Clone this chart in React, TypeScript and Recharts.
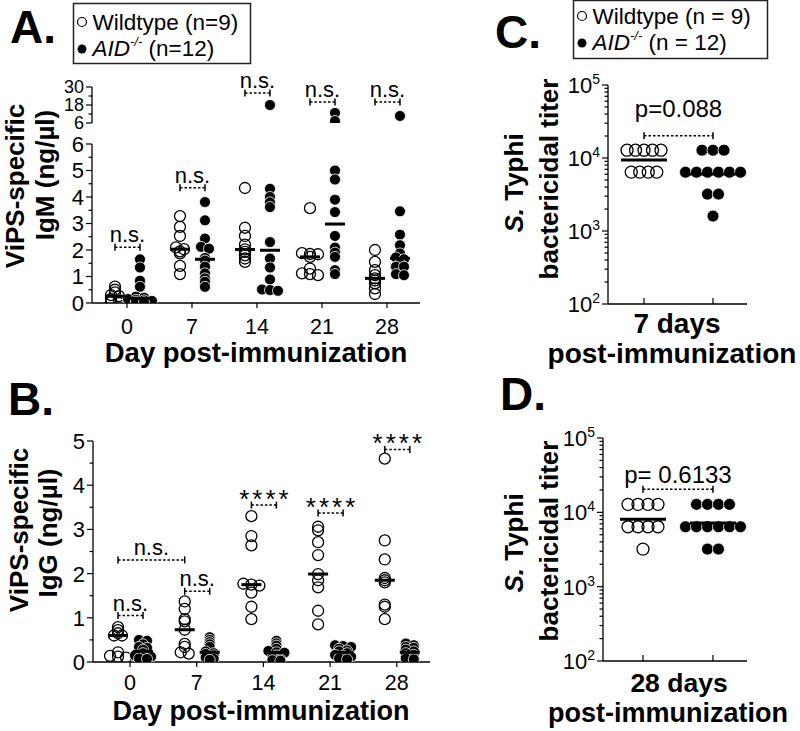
import React from 'react'
import { ScatterChart, Scatter, XAxis, YAxis, ReferenceLine } from 'recharts'

const FONT = '"Liberation Sans", Arial, Helvetica, sans-serif'

// Panel A: ViPS-specific IgM (ng/µl), one list per day
const days = ['0', '7', '14', '21', '28']
const igmWildtype = [
  [0.62, 0.5, 0.4, 0.3, 0.26, 0.15, 0.08, 0.03, 0.0],
  [3.28, 2.87, 2.53, 2.1, 2.03, 1.95, 1.87, 1.4, 1.09],
  [4.34, 2.84, 2.53, 2.2, 2.02, 1.93, 1.8, 1.68, 1.55],
  [3.58, 1.88, 1.85, 1.84, 1.74, 1.3, 1.12, 1.09, 1.05],
  [2.0, 1.55, 1.24, 1.05, 0.93, 0.85, 0.74, 0.55, 0.34],
]
const igmAid = [
  [1.65, 1.34, 0.84, 0.61, 0.24, 0.2, 0.15, 0.12, 0.1, 0.08, 0.05, 0.03],
  [3.81, 3.12, 2.43, 2.12, 2.05, 1.7, 1.6, 1.37, 1.12, 0.93, 0.8, 0.61],
  [18, 4.31, 4.0, 3.8, 3.62, 2.3, 1.68, 1.34, 0.89, 0.51, 0.49, 0.46],
  [12.7, 7.3, 5.0, 4.66, 3.9, 3.43, 2.53, 2.09, 1.9, 1.74, 1.24, 1.09],
  [10.7, 3.46, 2.58, 2.18, 1.87, 1.72, 1.65, 1.5, 1.37, 1.37, 1.09, 1.05],
]
const igmBracketY = [2.1, 4.35, 26, 20, 20]

// Panel B: ViPS-specific IgG (ng/µl)
const iggWildtype = [
  [0.79, 0.72, 0.65, 0.6, 0.6, 0.22, 0.14, 0.12, 0.1],
  [1.37, 1.2, 0.97, 0.92, 0.73, 0.41, 0.34, 0.22, 0.19],
  [3.3, 2.85, 2.64, 1.77, 1.75, 1.73, 1.57, 1.25, 0.97],
  [3.06, 2.98, 2.71, 2.42, 1.99, 1.85, 1.69, 1.16, 0.85],
  [4.6, 2.75, 2.32, 1.9, 1.85, 1.8, 1.3, 1.25, 0.97],
]
const iggAid = [
  [0.5, 0.48, 0.4, 0.34, 0.32, 0.28, 0.2, 0.15, 0.14, 0.12, 0.08, 0.07],
  [0.56, 0.5, 0.45, 0.4, 0.34, 0.24, 0.2, 0.18, 0.15, 0.1, 0.07, 0.05],
  [0.48, 0.42, 0.37, 0.3, 0.25, 0.22, 0.21, 0.15, 0.1, 0.06, 0.04, 0.03],
  [0.38, 0.36, 0.34, 0.3, 0.26, 0.24, 0.2, 0.16, 0.14, 0.12, 0.08, 0.06],
  [0.42, 0.38, 0.34, 0.32, 0.28, 0.24, 0.2, 0.16, 0.13, 0.1, 0.08, 0.06],
]
const iggBracketY = [1.05, 1.6, 3.55, 3.37, 4.81]
const iggBracketText = ['n.s.', 'n.s.', '****', '****', '****']
const iggDay0vs7Y = 2.31

// Panels C and D: S. Typhi bactericidal titer
const titer7Wildtype = [12800, 12800, 12800, 12800, 12800, 6400, 6400, 6400, 6400]
const titer7Aid = [12800, 12800, 12800, 6400, 6400, 6400, 6400, 6400, 6400, 3200, 3200, 1600]
const titer28Wildtype = [12800, 12800, 12800, 12800, 6400, 6400, 6400, 6400, 3200]
const titer28Aid = [12800, 12800, 12800, 12800, 6400, 6400, 6400, 6400, 6400, 6400, 3200, 3200]
const titerBracketY = [20200, 20400]
const titerP = ['p=0.088', 'p= 0.6133']

type Pt = { x: number; y: number }
type Bracket = { x1: number; x2: number; y: number; text: string; lift: number; size: number; spacing?: number }

const median = (a: number[]) => {
  const s = [...a].sort((p, q) => p - q)
  const m = s.length >> 1
  return s.length % 2 ? s[m] : (s[m - 1] + s[m]) / 2
}
const geoMean = (a: number[]) => Math.pow(10, a.reduce((s, v) => s + Math.log10(v), 0) / a.length)

// points with (nearly) the same value are put side by side, like a column scatter
function layoutGroup(values: number[], toPx: (v: number) => number, spacing: number) {
  const pts = values.map((v) => ({ v, py: toPx(v) })).sort((a, b) => b.py - a.py)
  const rows: { v: number; py: number }[][] = []
  pts.forEach((p) => {
    const row = rows[rows.length - 1]
    if (row && Math.abs(row[0].py - p.py) < 2) row.push(p)
    else rows.push([p])
  })
  return rows.flatMap((row) => row.map((p, k) => ({ v: p.v, dx: (k - (row.length - 1) / 2) * spacing })))
}

function groupPoints(groups: number[][], center: (i: number) => number, xPx: number, toPx: (v: number) => number, spacing: number): Pt[] {
  return groups.flatMap((vals, i) => layoutGroup(vals, toPx, spacing).map((p) => ({ x: center(i) + p.dx / xPx, y: p.v })))
}

const WT_SHIFT = -12
const AID_SHIFT = 13

// Panel A
const A_XPX = 65
const igmPx = (v: number) => (v <= 6 ? v * 26.5 : 1000 + v * 1.5)
const aOpen = groupPoints(igmWildtype, (i) => i + WT_SHIFT / A_XPX, A_XPX, igmPx, 8)
const aFilled = groupPoints(igmAid, (i) => i + AID_SHIFT / A_XPX, A_XPX, igmPx, 8)
const aCenters: Pt[] = [
  ...igmWildtype.map((v, i) => ({ x: i + WT_SHIFT / A_XPX, y: median(v) })),
  ...igmAid.map((v, i) => ({ x: i + AID_SHIFT / A_XPX, y: median(v) })),
]
const aBrackets: Bracket[] = igmBracketY.map((y, i) => ({
  x1: i + WT_SHIFT / A_XPX, x2: i + AID_SHIFT / A_XPX, y, text: 'n.s.', lift: 5, size: 22,
}))

// Panel B
const B_XPX = 66.7
const iggPx = (v: number) => v * 44.4
const bOpen = groupPoints(iggWildtype, (i) => i + WT_SHIFT / B_XPX, B_XPX, iggPx, 8)
const bFilled = groupPoints(iggAid, (i) => i + AID_SHIFT / B_XPX, B_XPX, iggPx, 8)
const bCenters: Pt[] = [
  ...iggWildtype.map((v, i) => ({ x: i + WT_SHIFT / B_XPX, y: median(v) })),
  ...iggAid.map((v, i) => ({ x: i + AID_SHIFT / B_XPX, y: median(v) })),
]
const bBrackets: Bracket[] = [
  ...iggBracketY.map((y, i) => {
    const star = iggBracketText[i] !== 'n.s.'
    return {
      x1: i + WT_SHIFT / B_XPX, x2: i + AID_SHIFT / B_XPX, y, text: iggBracketText[i],
      lift: star ? -3 : 5, size: star ? 26 : 22, spacing: star ? 3 : 0,
    }
  }),
  { x1: WT_SHIFT / B_XPX, x2: 1 + WT_SHIFT / B_XPX, y: iggDay0vs7Y, text: 'n.s.', lift: 5, size: 22 },
]

// Panels C, D
const titerPx = (v: number) => Math.log10(v) * 73
const cOpen = groupPoints([titer7Wildtype], () => 1, 69, titerPx, 8.5)
const cFilled = groupPoints([titer7Aid], () => 2, 69, titerPx, 11)
const cCenters: Pt[] = [{ x: 1, y: geoMean(titer7Wildtype) }, { x: 2, y: geoMean(titer7Aid) }]
const cBrackets: Bracket[] = [{ x1: 1, x2: 2, y: titerBracketY[0], text: titerP[0], lift: 19, size: 24 }]
const dOpen = groupPoints([titer28Wildtype], () => 1, 70, titerPx, 10)
const dFilled = groupPoints([titer28Aid], () => 2, 70, titerPx, 11)
const dCenters: Pt[] = [{ x: 1, y: geoMean(titer28Wildtype) }, { x: 2, y: geoMean(titer28Aid) }]
const dBrackets: Bracket[] = [{ x1: 1, x2: 2, y: titerBracketY[1], text: titerP[1], lift: 6, size: 24 }]

const halves = (lo: number, hi: number) => Array.from({ length: (hi - lo) * 2 + 1 }, (_, k) => lo + k / 2)
const logTicks = [2, 3, 4].flatMap((e) => [1, 2, 3, 4, 5, 6, 7, 8, 9].map((m) => m * Math.pow(10, e))).concat([100000])
const linLabel = (v: number) => String(v)
const logLabel = (v: number) => (
  <>
    10<tspan dy={-9} fontSize={14}>{Math.round(Math.log10(v))}</tspan>
  </>
)

const bracketShape = (b: Bracket) => (p: any) => (
  <g>
    <line x1={p.x1} x2={p.x2} y1={p.y1} y2={p.y1} stroke="#000" strokeWidth={1.5} strokeDasharray="2.5 2" />
    <line x1={p.x1} x2={p.x1} y1={p.y1 - 3.5} y2={p.y1 + 3.5} stroke="#000" strokeWidth={1.5} />
    <line x1={p.x2} x2={p.x2} y1={p.y1 - 3.5} y2={p.y1 + 3.5} stroke="#000" strokeWidth={1.5} />
    <text
      x={(p.x1 + p.x2) / 2 + (b.spacing || 0) / 2}
      y={p.y1 - b.lift}
      textAnchor="middle"
      fontSize={b.size}
      letterSpacing={b.spacing || 0}
      fontFamily={FONT}
      fill="#000"
    >
      {b.text}
    </text>
  </g>
)

type ChartProps = {
  left: number; top: number; width: number; height: number
  margin: { top: number; right: number; bottom: number; left: number }
  yWidth: number; xHeight: number; showX: boolean
  xDomain: [number, number]; xTicks: number[]; xLabels?: string[]; xTickUp?: boolean; xLabelDrop?: number
  yDomain: [number, number]; yLog?: boolean; yTicks: number[]; yMajor: number[]
  yLabel: (v: number) => React.ReactNode; yFont?: number
  open: Pt[]; filled: Pt[]; centers: Pt[]; r: number; centerWidth: number
  brackets: Bracket[]
}

function DotChart(c: ChartProps) {
  const axisX = c.margin.left + c.yWidth
  const axisY = c.height - c.margin.bottom - (c.showX ? c.xHeight : 0)
  const yFont = c.yFont || 22

  const yTick = (p: any) => {
    const v = p.payload.value
    const major = c.yMajor.some((m) => Math.abs(m - v) < 1e-6)
    return (
      <g>
        <line x1={axisX - (major ? 6 : 3.5)} x2={axisX} y1={p.y} y2={p.y} stroke="#000" strokeWidth={1.2} />
        {major && (
          <text x={axisX - 8} y={p.y + yFont * 0.36} textAnchor="end" fontSize={yFont} fontFamily={FONT} fill="#000">
            {c.yLabel(v)}
          </text>
        )}
      </g>
    )
  }
  const xTick = (p: any) => (
    <g>
      <line x1={p.x} x2={p.x} y1={axisY} y2={axisY + (c.xTickUp ? -6 : 5)} stroke="#000" strokeWidth={1.2} />
      {c.xLabels && (
        <text x={p.x} y={axisY + (c.xLabelDrop || 31)} textAnchor="middle" fontSize={21.5} fontFamily={FONT} fill="#000">
          {c.xLabels[p.payload.value]}
        </text>
      )}
    </g>
  )

  const openDot = (p: any) => <circle cx={p.cx} cy={p.cy} r={c.r} fill="none" stroke="#000" strokeWidth={1.3} />
  const filledDot = (p: any) => <circle cx={p.cx} cy={p.cy} r={c.r} fill="#000" stroke="#fff" strokeWidth={0.8} />
  const centerLine = (p: any) => (
    <line x1={p.cx - c.centerWidth / 2} x2={p.cx + c.centerWidth / 2} y1={p.cy} y2={p.cy} stroke="#000" strokeWidth={3} />
  )

  return (
    <div style={{ position: 'absolute', left: c.left, top: c.top }}>
      <ScatterChart width={c.width} height={c.height} margin={c.margin}>
        <XAxis
          type="number"
          dataKey="x"
          hide={!c.showX}
          height={c.xHeight}
          domain={c.xDomain}
          ticks={c.xTicks}
          interval={0}
          allowDataOverflow
          tickLine={false}
          tick={xTick}
          axisLine={{ stroke: '#000', strokeWidth: 1.3 }}
        />
        <YAxis
          type="number"
          dataKey="y"
          width={c.yWidth}
          domain={c.yDomain}
          scale={c.yLog ? 'log' : 'auto'}
          ticks={c.yTicks}
          interval={0}
          allowDataOverflow
          tickLine={false}
          tick={yTick}
          axisLine={{ stroke: '#000', strokeWidth: 1.3 }}
        />
        <Scatter data={c.open} shape={openDot} isAnimationActive={false} />
        <Scatter data={c.filled} shape={filledDot} isAnimationActive={false} />
        <Scatter data={c.centers} shape={centerLine} isAnimationActive={false} />
        {c.brackets.map((b, i) => (
          <ReferenceLine
            key={i}
            ifOverflow="visible"
            segment={[{ x: b.x1, y: b.y }, { x: b.x2, y: b.y }]}
            shape={bracketShape(b)}
          />
        ))}
      </ScatterChart>
    </div>
  )
}

function VTitle({ x, y, size, children }: { x: number; y: number; size: number; children: React.ReactNode }) {
  return (
    <text transform={`translate(${x},${y}) rotate(-90)`} textAnchor="middle" fontSize={size} fontWeight="bold" fontFamily={FONT} fill="#000">
      {children}
    </text>
  )
}

function HTitle({ x, y, size, children }: { x: number; y: number; size: number; children: React.ReactNode }) {
  return (
    <text x={x} y={y} textAnchor="middle" fontSize={size} fontWeight="bold" fontFamily={FONT} fill="#000">
      {children}
    </text>
  )
}

function Legend({ x, y, w, h, ty1, ty2, wt, aid }: { x: number; y: number; w: number; h: number; ty1: number; ty2: number; wt: string; aid: string }) {
  return (
    <g fontFamily={FONT} fontSize={22.5} fill="#000">
      <rect x={x} y={y} width={w} height={h} fill="none" stroke="#222" strokeWidth={1.5} />
      <circle cx={x + 8.5} cy={ty1 - 8} r={4.5} fill="none" stroke="#000" strokeWidth={1.2} />
      <text x={x + 19} y={ty1}>{wt}</text>
      <circle cx={x + 8.5} cy={ty2 - 7} r={4.5} fill="#000" />
      <text x={x + 19} y={ty2}>
        <tspan fontStyle="italic">AID</tspan>
        <tspan fontStyle="italic" fontSize={13} dy={-10}>-/-</tspan>
        <tspan dy={10}>{aid}</tspan>
      </text>
    </g>
  )
}

export default function App() {
  const aX: [number, number] = [-0.538, 4.508]
  return (
    <div style={{ position: 'absolute', left: 0, top: 0, width: 800, height: 731, background: '#fff', fontFamily: FONT }}>
      {/* A: upper segment of the broken axis */}
      <DotChart
        left={0} top={60} width={440} height={75}
        margin={{ top: 27, right: 20, bottom: 12, left: 0 }}
        yWidth={92} xHeight={0} showX={false}
        xDomain={aX} xTicks={[0, 1, 2, 3, 4]}
        yDomain={[6, 30]} yTicks={[6, 12, 18, 24, 30]} yMajor={[6, 18, 30]} yLabel={linLabel} yFont={18}
        open={aOpen.filter((p) => p.y > 6)} filled={aFilled.filter((p) => p.y > 6)}
        centers={aCenters.filter((p) => p.y > 6)} r={5.5} centerWidth={20}
        brackets={aBrackets.filter((b) => b.y > 6)}
      />
      {/* A: lower segment */}
      <DotChart
        left={0} top={130} width={440} height={213}
        margin={{ top: 14, right: 20, bottom: 0, left: 0 }}
        yWidth={92} xHeight={40} showX
        xDomain={aX} xTicks={[0, 1, 2, 3, 4]} xLabels={days}
        yDomain={[0, 6]} yTicks={halves(0, 6)} yMajor={[0, 1, 2, 3, 4, 5, 6]} yLabel={linLabel}
        open={aOpen.filter((p) => p.y <= 6)} filled={aFilled.filter((p) => p.y <= 6)}
        centers={aCenters.filter((p) => p.y <= 6)} r={5.5} centerWidth={20}
        brackets={aBrackets.filter((b) => b.y <= 6)}
      />
      {/* B */}
      <DotChart
        left={0} top={420} width={440} height={282}
        margin={{ top: 21, right: 10, bottom: 0, left: 0 }}
        yWidth={93} xHeight={40} showX xLabelDrop={28}
        xDomain={[-0.555, 4.498]} xTicks={[0, 1, 2, 3, 4]} xLabels={days}
        yDomain={[0, 5]} yTicks={halves(0, 5)} yMajor={[0, 1, 2, 3, 4, 5]} yLabel={linLabel}
        open={bOpen} filled={bFilled} centers={bCenters} r={5.5} centerWidth={20}
        brackets={bBrackets}
      />
      {/* C */}
      <DotChart
        left={500} top={70} width={270} height={246}
        margin={{ top: 15, right: 23, bottom: 0, left: 0 }}
        yWidth={108} xHeight={12} showX xTickUp
        xDomain={[0.478, 2.493]} xTicks={[1, 2]}
        yDomain={[100, 100000]} yLog yTicks={logTicks} yMajor={[100, 1000, 10000, 100000]} yLabel={logLabel}
        open={cOpen} filled={cFilled} centers={cCenters} r={6} centerWidth={46}
        brackets={cBrackets}
      />
      {/* D */}
      <DotChart
        left={500} top={423} width={270} height={250}
        margin={{ top: 15, right: 23, bottom: 0, left: 0 }}
        yWidth={103} xHeight={12} showX xTickUp
        xDomain={[0.429, 2.486]} xTicks={[1, 2]}
        yDomain={[100, 100000]} yLog yTicks={logTicks} yMajor={[100, 1000, 10000, 100000]} yLabel={logLabel}
        open={dOpen} filled={dFilled} centers={dCenters} r={6} centerWidth={46}
        brackets={dBrackets}
      />

      <svg width={800} height={731} style={{ position: 'absolute', left: 0, top: 0, pointerEvents: 'none' }}>
        <g fontFamily={FONT} fontWeight="bold" fontSize={46} fill="#000">
          <text x={10} y={43}>A.</text>
          <text x={8} y={415}>B.</text>
          <text x={495} y={48}>C.</text>
          <text x={500} y={410}>D.</text>
        </g>

        <Legend x={73.5} y={3.5} w={177} h={60} ty1={30} ty2={56} wt="Wildtype (n=9)" aid=" (n=12)" />
        <Legend x={573.5} y={0.5} w={194} h={58} ty1={24} ty2={50} wt="Wildtype (n = 9)" aid=" (n = 12)" />

        <VTitle x={24} y={186} size={26}>ViPS-specific</VTitle>
        <VTitle x={54} y={175} size={26}>IgM (ng/µl)</VTitle>
        <VTitle x={28} y={530} size={26}>ViPS-specific</VTitle>
        <VTitle x={57} y={533} size={26}>IgG (ng/µl)</VTitle>

        <VTitle x={523} y={183} size={26}><tspan fontStyle="italic">S.</tspan> Typhi</VTitle>
        <VTitle x={558} y={179} size={26}>bactericidal titer</VTitle>
        <VTitle x={523} y={543} size={26}><tspan fontStyle="italic">S.</tspan> Typhi</VTitle>
        <VTitle x={558} y={541} size={26}>bactericidal titer</VTitle>

        <HTitle x={256} y={362} size={27.5}>Day post-immunization</HTitle>
        <HTitle x={261} y={720} size={27}>Day post-immunization</HTitle>
        <HTitle x={677} y={333} size={28}>7 days</HTitle>
        <HTitle x={672} y={363} size={28}>post-immunization</HTitle>
        <HTitle x={679} y={692} size={26.5}>28 days</HTitle>
        <HTitle x={668} y={722} size={27}>post-immunization</HTitle>
      </svg>
    </div>
  )
}
